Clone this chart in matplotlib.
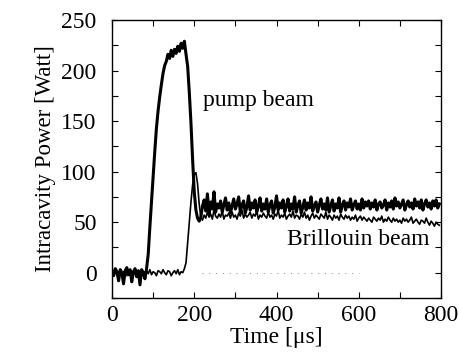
import numpy as np
import matplotlib
matplotlib.use("Agg")
import matplotlib.pyplot as plt
from matplotlib.ticker import MultipleLocator

plt.rcParams['font.family'] = ['Liberation Serif', 'DejaVu Serif']

# sampled traces, one point every 4 us from 0 to 796 us
time_us = np.arange(0, 800, 4)

pump_power = [
    2, -3, 4, 1, -8, 3, 0, -11, 2, 5, -2, 3, -9, 1, 4, -4, 2, -12, 3, 0, -6, 4,
    18, 45, 70, 95, 120, 143, 160, 174, 186, 197,
    205, 209, 216, 212, 220, 214, 221, 217, 224, 219,
    227, 222, 229, 216, 204, 178, 148, 112, 80, 62,
    54, 51, 55,
    66, 72, 61, 78, 58, 70, 63, 80, 60, 68,
    64, 71, 60, 67, 74, 62, 69, 59, 66, 73,
    63, 68, 75, 60, 67, 71, 59, 65, 76, 62,
    69, 64, 72, 60, 66, 74, 61, 68, 63, 73,
    60, 67, 71, 59, 65, 76, 62, 69, 64, 72,
    60, 66, 73, 61, 68, 63, 75, 60, 67, 71,
    59, 65, 72, 62, 69, 64, 75, 61, 66, 70,
    60, 67, 73, 63, 68, 62, 74, 60, 66, 72,
    61, 68, 64, 74, 60, 67, 71, 62, 69, 65,
    73, 62, 67, 71, 63, 68, 62, 73, 64, 70,
    66, 71, 63, 69, 65, 72, 62, 68, 70, 64,
    67, 72, 62, 69, 65, 71, 63, 74, 66, 70,
    64, 68, 72, 62, 67, 71, 65, 69, 63, 73,
    66, 70, 64, 72, 62, 68, 72, 65, 69, 63,
    71, 66, 72, 64, 68,
]

brillouin_power = [
    1, -2, 2, 0, -1, 3, -2, 1, 0, -3,
    2, -1, 1, -2, 3, 0, -1, 2, -3, 1,
    0, 2, -1, 3, -2, 1, 0, -3, 2, 1,
    -1, 3, 0, -2, 2, 1, -3, 0, 2, -1,
    3, -2, 1, 0, 4,
    10, 30, 50, 70, 87, 97, 99, 88, 68, 55,
    52, 57, 54, 60, 55, 58, 53, 62, 56, 54,
    58, 55, 61, 53, 57, 56, 59, 54, 60, 55,
    57, 53, 59, 56, 62, 54, 58, 55, 57, 60,
    54, 58, 56, 61, 53, 57, 55, 59, 56, 54,
    60, 55, 57, 53, 58, 56, 62, 54, 57, 55,
    59, 53, 56, 58, 55, 61, 54, 57, 56, 53,
    58, 55, 60, 54, 57, 52, 56, 59, 54, 57,
    55, 53, 58, 56, 54, 60, 53, 57, 55, 52,
    57, 54, 56, 52, 58, 55, 53, 57, 54, 56,
    52, 55, 53, 57, 51, 54, 56, 52, 55, 53,
    51, 54, 52, 50, 55, 53, 51, 54, 52, 56,
    50, 53, 51, 55, 52, 50, 54, 51, 53, 50,
    52, 49, 54, 51, 53, 50, 52, 55, 49, 51,
    53, 50, 48, 52, 51, 49, 54, 50, 47, 51,
    49, 46, 50, 48, 47,
]

# faint dotted baseline seen in the scan
baseline_t = [220, 600]
baseline_p = [0, 0]

fig = plt.figure(figsize=(4.6, 3.55), dpi=100)
ax = fig.add_axes([0.2435, 0.1606, 0.7152, 0.7831])

ax.plot(time_us, brillouin_power, color='black', lw=1.2)
ax.plot(time_us, pump_power, color='black', lw=2.2)
ax.plot(baseline_t, baseline_p, color='0.55', lw=0.7, ls=(0, (1, 6)))

ax.set_xlim(0, 800)
ax.set_ylim(-25, 250)
ax.xaxis.set_major_locator(MultipleLocator(200))
ax.xaxis.set_minor_locator(MultipleLocator(100))
ax.yaxis.set_major_locator(MultipleLocator(50))
ax.yaxis.set_minor_locator(MultipleLocator(25))
ax.tick_params(which='both', direction='in', top=True, right=True,
               length=4, width=0.8, labelsize=17)
ax.tick_params(axis='x', pad=5)
ax.tick_params(axis='y', pad=11)

ax.set_xlabel('Time [\u03bcs]', fontsize=17, labelpad=1)
ax.set_ylabel('Intracavity Power [Watt]', fontsize=16.5, labelpad=4)

ax.text(222, 170, 'pump beam', fontsize=17, va='center', ha='left')
ax.text(425, 33, 'Brillouin beam', fontsize=17, va='center', ha='left')

for s in ax.spines.values():
    s.set_linewidth(1.0)

fig.savefig('out.png', dpi=100)
